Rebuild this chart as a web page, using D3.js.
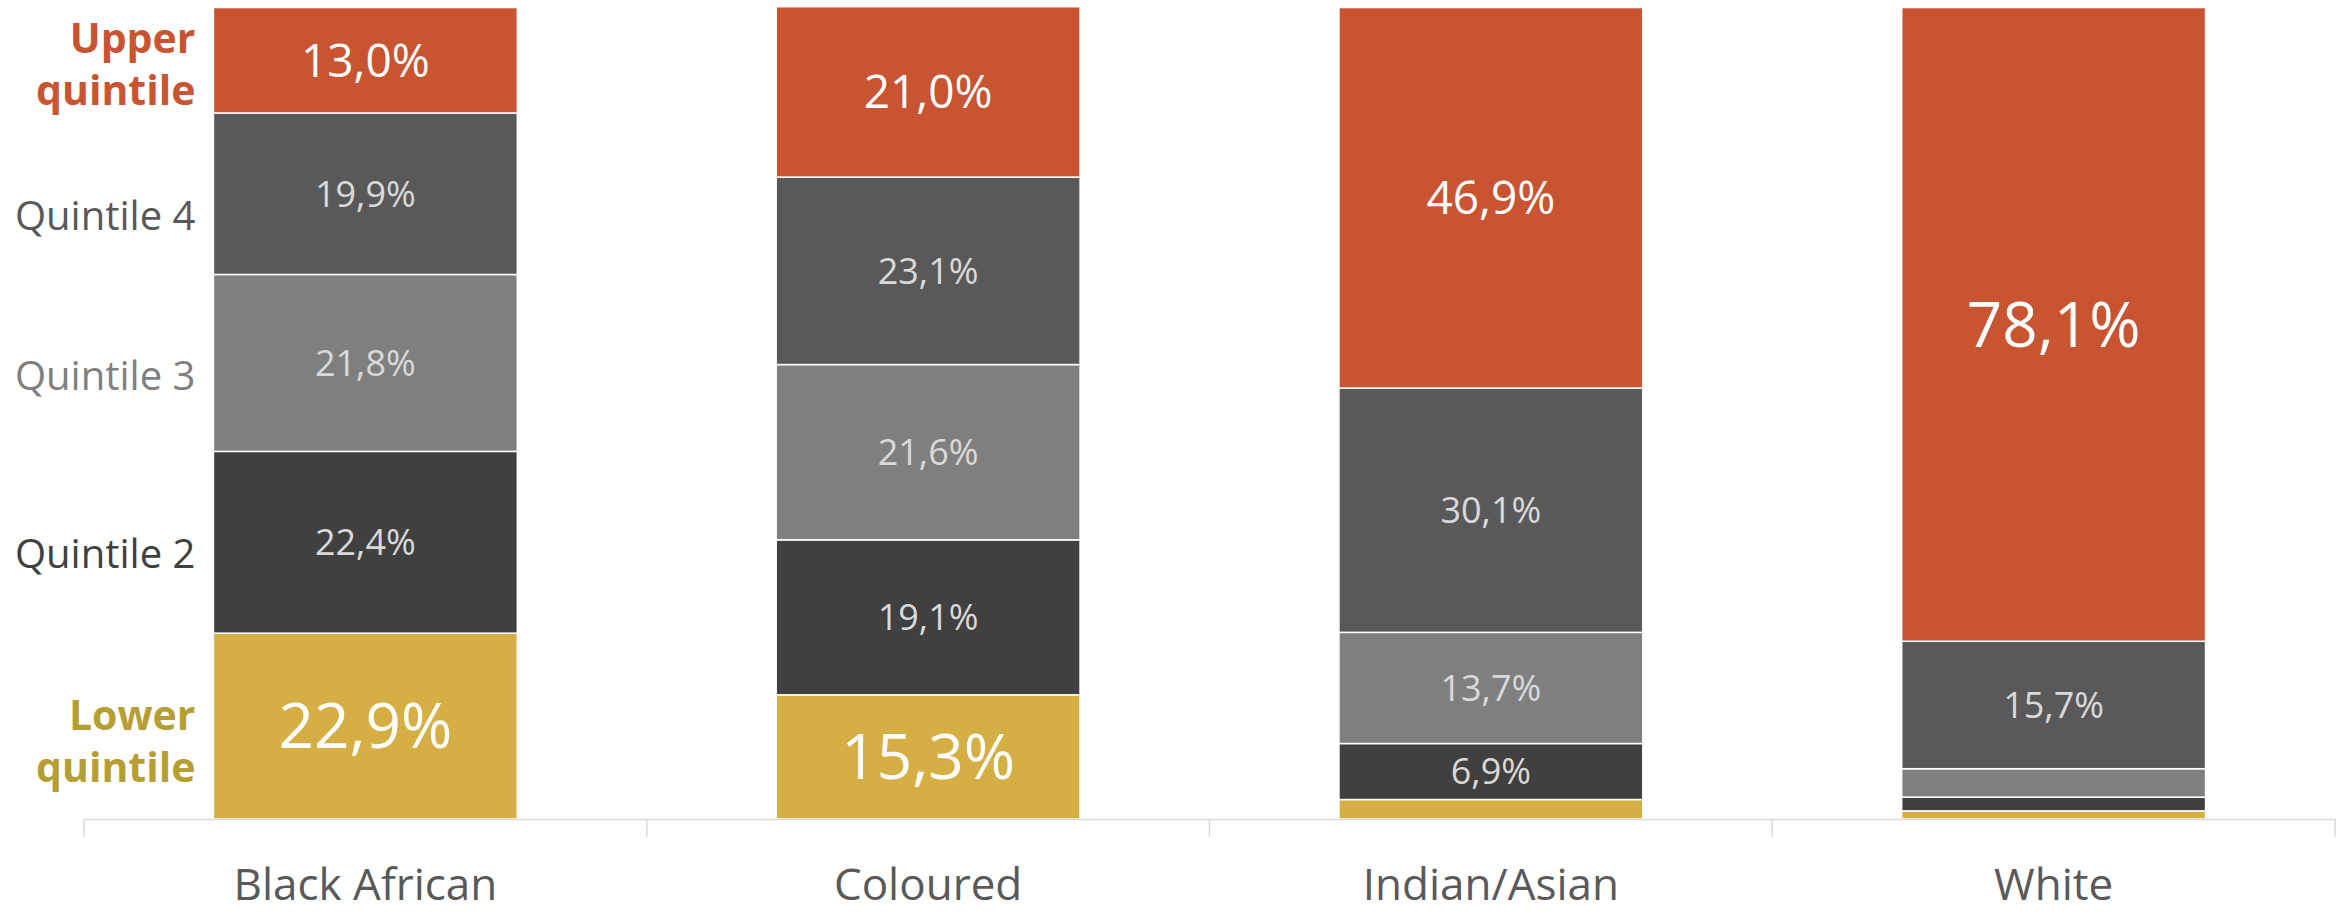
<!DOCTYPE html>
<html>
<head>
<meta charset="utf-8">
<script src="https://cdn.jsdelivr.net/npm/d3@7"></script>
<style>
  html, body { margin: 0; padding: 0; background: #fff; }
  svg { display: block; font-family: "Open Sans", "Noto Sans", sans-serif; }
</style>
</head>
<body>
<div id="graph"></div>
<script>
// chart data
var categories = ["Black African", "Coloured", "Indian/Asian", "White"];
var quintiles = ["lower", "q2", "q3", "q4", "upper"];
var quintileNames = [["Lower", "quintile"], ["Quintile 2"], ["Quintile 3"], ["Quintile 4"], ["Upper", "quintile"]];

var lowerQuintile = [22.9, 15.3, 2.4, 1.0];
var quintile2 = [22.4, 19.1, 6.9, 1.7];
var quintile3 = [21.8, 21.6, 13.7, 3.5];
var quintile4 = [19.9, 23.1, 30.1, 15.7];
var upperQuintile = [13.0, 21.0, 46.9, 78.1];

var width = 2348, height = 914;
var margin = { top: 7.5, left: 84, bottom: 95, right: 13 };
var baseline = height - margin.bottom;

var colors = {
  lower: "#D5AF43",
  q2: "#404040",
  q3: "#7F7F7F",
  q4: "#595959",
  upper: "#C85431"
};
var nameColors = {
  lower: "#B59E32",
  q2: "#404040",
  q3: "#7F7F7F",
  q4: "#595959",
  upper: "#C85431"
};
// where the left-hand names sit, relative to the middle of the first bar's segment
var nameOffset = { lower: 4, q2: 26, q3: 27, q4: 36, upper: -7 };

var data = categories.map(function(c, i) {
  return {
    who: c,
    lower: lowerQuintile[i],
    q2: quintile2[i],
    q3: quintile3[i],
    q4: quintile4[i],
    upper: upperQuintile[i]
  };
});

var stacked = d3.stack().keys(quintiles)(data);

var xScale = d3.scaleBand()
  .domain(categories)
  .range([margin.left, width - margin.right])
  .paddingInner(0.46)
  .paddingOuter(0.23);

var yScale = d3.scaleLinear()
  .domain([0, 100])
  .range([baseline, margin.top]);

var svg = d3.select("#graph").append("svg")
  .attr("width", width)
  .attr("height", height);

var chartLayer = svg.append("g").attr("class", "chartLayer");
var axisLayer = svg.append("g").attr("class", "axisLayer");

function fmt(v) {
  return d3.format(".1f")(v).replace(".", ",") + "%";
}

function labelSize(key, v) {
  if (key == "lower") return 62;
  if (key == "upper") return v > 60 ? 62 : 46;
  return 36;
}

// segments
var series = chartLayer.selectAll("g.series")
  .data(stacked)
  .enter().append("g")
  .attr("class", "series")
  .attr("fill", function(d) { return colors[d.key]; });

series.selectAll("rect")
  .data(function(d) { return d; })
  .enter().append("rect")
  .attr("x", function(d) { return xScale(d.data.who); })
  .attr("y", function(d) { return yScale(d[1]); })
  .attr("width", xScale.bandwidth())
  .attr("height", function(d) { return yScale(d[0]) - yScale(d[1]); })
  .attr("stroke", "#fff")
  .attr("stroke-width", 1.5);

// values inside the segments
series.each(function(s) {
  d3.select(this).selectAll("text")
    .data(s.filter(function(d) { return d[1] - d[0] >= 5; }))
    .enter().append("text")
    .attr("x", function(d) { return xScale(d.data.who) + xScale.bandwidth() / 2; })
    .attr("y", function(d) { return yScale((d[0] + d[1]) / 2); })
    .attr("dy", "0.36em")
    .attr("text-anchor", "middle")
    .attr("font-size", function(d) { return labelSize(s.key, d[1] - d[0]); })
    .attr("fill", (s.key == "lower" || s.key == "upper") ? "#fff" : "#D9D9D9")
    .text(function(d) { return fmt(d[1] - d[0]); });
});

// names on the left, next to the first bar
stacked.forEach(function(s, i) {
  var seg = s[0];
  var cy = yScale((seg[0] + seg[1]) / 2) + nameOffset[s.key];
  var bold = (s.key == "lower" || s.key == "upper");
  var t = chartLayer.append("text")
    .attr("x", xScale(categories[0]) - 18)
    .attr("y", cy)
    .attr("text-anchor", "end")
    .attr("font-size", bold ? 41 : 40)
    .attr("font-weight", bold ? 700 : 400)
    .attr("fill", nameColors[s.key]);
  quintileNames[i].forEach(function(line, j) {
    t.append("tspan")
      .attr("x", xScale(categories[0]) - 18)
      .attr("dy", j == 0 ? 0 : 52)
      .text(line);
  });
});

// category axis
var step = xScale.step();
var tickPos = d3.range(categories.length + 1).map(function(i) { return margin.left + i * step; });

axisLayer.append("line")
  .attr("x1", margin.left)
  .attr("x2", width - margin.right)
  .attr("y1", baseline + 0.5)
  .attr("y2", baseline + 0.5)
  .attr("stroke", "#D9D9D9")
  .attr("stroke-width", 1.5);

axisLayer.selectAll("line.tick")
  .data(tickPos)
  .enter().append("line")
  .attr("class", "tick")
  .attr("x1", function(d) { return d; })
  .attr("x2", function(d) { return d; })
  .attr("y1", baseline)
  .attr("y2", baseline + 18)
  .attr("stroke", "#D9D9D9")
  .attr("stroke-width", 1.5);

axisLayer.selectAll("text.cat")
  .data(categories)
  .enter().append("text")
  .attr("class", "cat")
  .attr("x", function(d) { return xScale(d) + xScale.bandwidth() / 2; })
  .attr("y", 900)
  .attr("text-anchor", "middle")
  .attr("font-size", 44)
  .attr("fill", "#595959")
  .text(function(d) { return d; });
</script>
</body>
</html>
